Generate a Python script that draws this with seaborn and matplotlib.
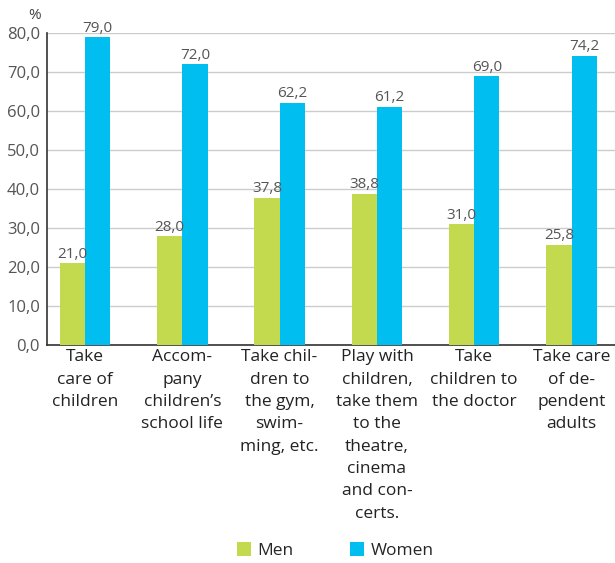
import pandas as pd
import seaborn as sns
import matplotlib.pyplot as plt

activities = ["Take\ncare of\nchildren",
              "Accom-\npany\nchildren’s\nschool life",
              "Take chil-\ndren to\nthe gym,\nswim-\nming, etc.",
              "Play with\nchildren,\ntake them\nto the\ntheatre,\ncinema\nand con-\ncerts.",
              "Take\nchildren to\nthe doctor",
              "Take care\nof de-\npendent\nadults"]
men = [21.0, 28.0, 37.8, 38.8, 31.0, 25.8]
women = [79.0, 72.0, 62.2, 61.2, 69.0, 74.2]
groups = ["Men", "Women"]
colors = ["#c3d94e", "#00bff0"]

df = pd.DataFrame({
    "activity": activities * 2,
    "group": ["Men"] * len(men) + ["Women"] * len(women),
    "value": men + women,
})

sns.set_style("white")
plt.rcParams["font.family"] = ["Open Sans", "DejaVu Sans"]

fig = plt.figure(figsize=(6.15, 5.63), dpi=100)
ax = fig.add_axes([0.0764, 0.387, 0.932, 0.554])

sns.barplot(data=df, x="activity", y="value", hue="group", order=activities,
            hue_order=groups, palette=colors, width=0.52, saturation=1,
            linewidth=0, ax=ax, zorder=3)

for cont in ax.containers:
    ax.bar_label(cont, labels=[f"{v:.1f}".replace(".", ",") for v in cont.datavalues],
                 fontsize=11, color="#555555", padding=1)

ax.set_ylim(0, 80)
ax.set_xlim(-0.39, 5.5)
ax.set_yticks(range(0, 81, 10))
ax.set_yticklabels([f"{v},0" for v in range(0, 81, 10)], fontsize=12, color="#555555")
ax.yaxis.grid(True, color="#cccccc", linewidth=1, zorder=0)
ax.tick_params(axis="y", length=4, width=1, color="#333333", pad=1)
ax.tick_params(axis="x", which="major", length=0, labelsize=12.5, pad=3)
ax.set_xticks([i + 0.5 for i in range(5)], minor=True)
ax.tick_params(axis="x", which="minor", length=5, width=1, color="#333333")
for lab in ax.get_xticklabels():
    lab.set_linespacing(1.53)
    lab.set_color("#222222")
ax.set_xlabel("")
ax.set_ylabel("")
for s in ["top", "right"]:
    ax.spines[s].set_visible(False)
for s in ["left", "bottom"]:
    ax.spines[s].set_color("#333333")
    ax.spines[s].set_linewidth(1.2)

fig.text(0.057, 0.985, "%", fontsize=11, color="#444444", ha="center", va="top")

ax.legend(loc="center", bbox_to_anchor=(0.545, 0.022), bbox_transform=fig.transFigure,
          ncol=2, frameon=False, fontsize=12.5, handlelength=0.8, handleheight=0.8,
          columnspacing=3.3, handletextpad=0.35)

fig.savefig("out.png", dpi=100)
